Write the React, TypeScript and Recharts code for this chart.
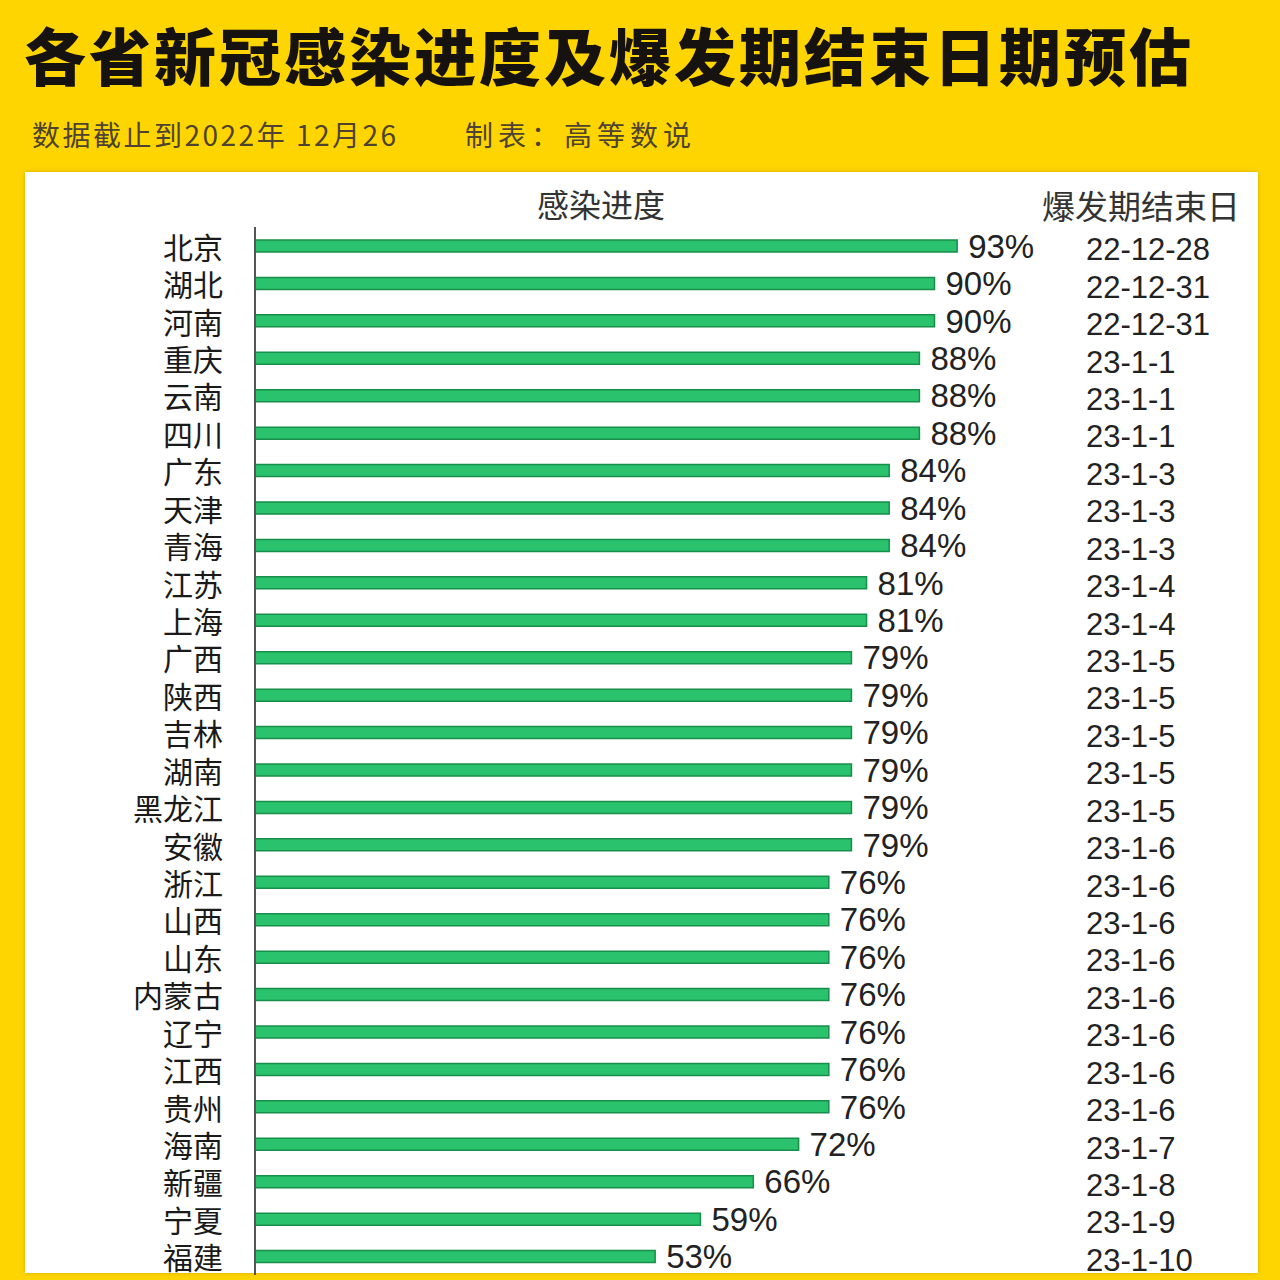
import React from "react";
import { BarChart, Bar, XAxis, YAxis, LabelList } from "recharts";

const provinces = [
  "北京", "湖北", "河南", "重庆", "云南", "四川", "广东", "天津", "青海", "江苏",
  "上海", "广西", "陕西", "吉林", "湖南", "黑龙江", "安徽", "浙江", "山西", "山东",
  "内蒙古", "辽宁", "江西", "贵州", "海南", "新疆", "宁夏", "福建",
];

const progress = [
  93, 90, 90, 88, 88, 88, 84, 84, 84, 81,
  81, 79, 79, 79, 79, 79, 79, 76, 76, 76,
  76, 76, 76, 76, 72, 66, 59, 53,
];

const endDates = [
  "22-12-28", "22-12-31", "22-12-31", "23-1-1", "23-1-1", "23-1-1", "23-1-3", "23-1-3", "23-1-3", "23-1-4",
  "23-1-4", "23-1-5", "23-1-5", "23-1-5", "23-1-5", "23-1-5", "23-1-6", "23-1-6", "23-1-6", "23-1-6",
  "23-1-6", "23-1-6", "23-1-6", "23-1-6", "23-1-7", "23-1-8", "23-1-9", "23-1-10",
];

const FONT = "'Liberation Sans', 'Noto Sans CJK SC', sans-serif";
const CJK = "'Noto Sans CJK SC', sans-serif";

const data = provinces.map((name, i) => ({
  name,
  value: progress[i],
  date: endDates[i],
}));

function NameTick({ x, y, payload }: any) {
  return (
    <text
      x={x - 24}
      y={y}
      textAnchor="end"
      dominantBaseline="central"
      fontSize={30}
      fontFamily={CJK}
      fill="#1a1a1a"
    >
      {payload.value}
    </text>
  );
}

function DateTick({ x, y, payload }: any) {
  return (
    <text
      x={x + 68}
      y={y + 4}
      textAnchor="start"
      dominantBaseline="central"
      fontSize={31}
      fontFamily={FONT}
      fill="#222"
    >
      {payload.value}
    </text>
  );
}

export default function App() {
  return (
    <div
      style={{
        position: "absolute",
        top: 0,
        left: 0,
        width: 1280,
        height: 1280,
        background: "#FFD500",
        overflow: "hidden",
        fontFamily: CJK,
      }}
    >
      <div
        style={{
          position: "absolute",
          left: 24,
          top: 14,
          fontSize: 62,
          fontWeight: 900,
          letterSpacing: 3,
          color: "#161210",
          lineHeight: "80px",
          whiteSpace: "nowrap",
        }}
      >
        各省新冠感染进度及爆发期结束日期预估
      </div>
      <div
        style={{
          position: "absolute",
          left: 32,
          top: 114,
          fontSize: 28,
          color: "#4d4330",
          lineHeight: "40px",
          whiteSpace: "nowrap",
          letterSpacing: 2.5,
        }}
      >
        数据截止到2022年 12月26
      </div>
      <div
        style={{
          position: "absolute",
          left: 465,
          top: 114,
          fontSize: 28,
          color: "#4d4330",
          lineHeight: "40px",
          whiteSpace: "nowrap",
          letterSpacing: 5,
        }}
      >
        制表：高等数说
      </div>
      <div
        style={{
          position: "absolute",
          left: 25,
          top: 172,
          width: 1233,
          height: 1101,
          background: "#ffffff",
          boxShadow: "0 0 4px rgba(160,140,0,0.5)",
        }}
      />
      <div
        style={{
          position: "absolute",
          left: 537,
          top: 183,
          fontSize: 32,
          color: "#333",
          lineHeight: "40px",
          whiteSpace: "nowrap",
        }}
      >
        感染进度
      </div>
      <div
        style={{
          position: "absolute",
          left: 1042,
          top: 185,
          fontSize: 33,
          color: "#333",
          lineHeight: "40px",
          whiteSpace: "nowrap",
        }}
      >
        爆发期结束日
      </div>
      <div style={{ position: "absolute", left: 0, top: 0 }}>
        <BarChart
          width={1280}
          height={1280}
          data={data}
          layout="vertical"
          margin={{ top: 227, right: 0, bottom: 5, left: 0 }}
        >
          <XAxis type="number" domain={[0, 100]} hide />
          <YAxis
            yAxisId="left"
            type="category"
            dataKey="name"
            width={255}
            tickLine={false}
            axisLine={{ stroke: "#555", strokeWidth: 2 }}
            tick={<NameTick />}
            interval={0}
          />
          <YAxis
            yAxisId="right"
            orientation="right"
            type="category"
            dataKey="date"
            width={270}
            tickLine={false}
            axisLine={false}
            tick={<DateTick />}
            interval={0}
          />
          <Bar
            yAxisId="left"
            dataKey="value"
            barSize={12}
            fill="#2AC26C"
            stroke="#178F4A"
            strokeWidth={1.5}
            isAnimationActive={false}
          >
            <LabelList
              dataKey="value"
              position="right"
              offset={11}
              formatter={(v: any) => `${v}%`}
              fontSize={33}
              fontFamily={FONT}
              fill="#222"
            />
          </Bar>
        </BarChart>
      </div>
    </div>
  );
}
